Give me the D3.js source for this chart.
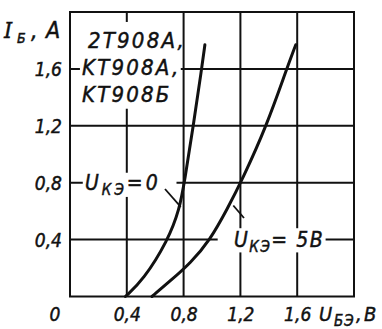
<!DOCTYPE html>
<html><head><meta charset="utf-8">
<script src="https://cdn.jsdelivr.net/npm/d3@7"></script>
<style>
html,body{margin:0;padding:0;background:#fff;}
svg{display:block;}
text{font-family:"DejaVu Sans Condensed","DejaVu Sans",sans-serif;font-style:italic;fill:#111;stroke:#111;stroke-width:0.45px;}
</style></head>
<body>
<script>
// Data
const xTicks = [0.4, 0.8, 1.2, 1.6];
const yTicks = [0.4, 0.8, 1.2, 1.6];
const xTickLabels = ["0,4", "0,8", "1,2", "1,6"];
const yTickLabels = ["0,4", "0,8", "1,2", "1,6"];
const zeroLabel = "0";
// Curve U_КЭ = 0
const u0_U = [0.39, 0.514, 0.69, 0.772, 0.808, 0.868, 0.927, 0.95];
const u0_I = [0.0, 0.113, 0.394, 0.615, 0.817, 1.2, 1.6, 1.77];
// Curve U_КЭ = 5 В
const u5_U = [0.577, 0.71, 0.848, 0.985, 1.11, 1.211, 1.385, 1.526, 1.59];
const u5_I = [0.0, 0.113, 0.235, 0.394, 0.62, 0.817, 1.2, 1.6, 1.77];
const devices = ["2T908A,", "KT908A,", "KT908Б"];

const W = 382, H = 329;
const svg = d3.select("body").append("svg").attr("width", W).attr("height", H);
const x = d3.scaleLinear().domain([0, 2.0]).range([70, 354]);
const y = d3.scaleLinear().domain([0, 2.0]).range([296.5, 12]);
const ink = "#111";

// grid
const g = svg.append("g");
g.selectAll(".vg").data(xTicks).join("line")
  .attr("x1", d => x(d)).attr("x2", d => x(d)).attr("y1", y(2)).attr("y2", y(0))
  .attr("stroke", ink).attr("stroke-width", 2);
g.selectAll(".hg").data(yTicks).join("line")
  .attr("x1", x(0)).attr("x2", x(2)).attr("y1", d => y(d)).attr("y2", d => y(d))
  .attr("stroke", ink).attr("stroke-width", 2);

// white breaks behind labels
const breaks = [
  [x(0.07), y(1.93), x(0.78), y(1.32)],   // device label block
  [x(0.09), y(0.87), x(0.75), y(0.70)],   // Uкэ=0 label
  [x(1.04), y(0.48), x(1.8), y(0.31)]      // Uкэ=5В label
];
svg.selectAll(".brk").data(breaks).join("rect")
  .attr("x", d => d[0]).attr("y", d => d[1])
  .attr("width", d => d[2] - d[0]).attr("height", d => d[3] - d[1])
  .attr("fill", "#fff");

// frame
svg.append("rect").attr("x", x(0)).attr("y", y(2)).attr("width", x(2) - x(0)).attr("height", y(0) - y(2))
  .attr("fill", "none").attr("stroke", ink).attr("stroke-width", 2);

// curves
const line = d3.line().x(d => x(d[0])).y(d => y(d[1])).curve(d3.curveBasis);
[[u0_U, u0_I], [u5_U, u5_I]].forEach(([U, I]) => {
  svg.append("path").datum(U.map((u, i) => [u, I[i]]))
    .attr("d", line).attr("fill", "none").attr("stroke", ink).attr("stroke-width", 3)
    .attr("stroke-linecap", "round");
});

// axis tick labels
const yAxis = d3.axisLeft(y).tickValues(yTicks).tickSize(0).tickPadding(8)
  .tickFormat((d, i) => yTickLabels[i]);
const ya = svg.append("g").attr("transform", `translate(${x(0)},0)`).call(yAxis);
ya.select(".domain").remove();
ya.selectAll("text").attr("font-size", 19).attr("font-family", null).attr("fill", ink).attr("dy", "0.36em");

const xAxis = d3.axisBottom(x).tickValues(xTicks).tickSize(0).tickPadding(11)
  .tickFormat((d, i) => xTickLabels[i]);
const xa = svg.append("g").attr("transform", `translate(0,${y(0)})`).call(xAxis);
xa.select(".domain").remove();
xa.selectAll("text").attr("font-size", 19).attr("font-family", null).attr("fill", ink);

svg.append("text").attr("x", x(0) - 15).attr("y", 321).attr("font-size", 19)
  .attr("text-anchor", "middle").text(zeroLabel);

// axis titles
const yt = svg.append("text").attr("y", 38).attr("font-size", 23);
yt.append("tspan").attr("x", 4).attr("font-family", "DejaVu Serif Condensed, DejaVu Serif, serif").text("I");
yt.append("tspan").attr("x", 17).attr("font-size", 14).attr("dy", 5).text("Б");
yt.append("tspan").attr("x", 31).attr("dy", -5).text(",");
yt.append("tspan").attr("x", 46).text("A");

const xt = svg.append("text").attr("y", 321).attr("font-size", 20);
xt.append("tspan").attr("x", 319).text("U");
xt.append("tspan").attr("x", 334).attr("font-size", 15).attr("dy", 5).attr("letter-spacing", 1).text("БЭ");
xt.append("tspan").attr("x", 356).attr("dy", -5).text(",");
xt.append("tspan").attr("x", 364).text("B");

// device labels
svg.selectAll(".dev").data(devices).join("text")
  .attr("x", (d, i) => i === 0 ? 88 : 82)
  .attr("y", (d, i) => 48 + i * 27)
  .attr("font-size", 22).attr("letter-spacing", 2.2).text(d => d);

// curve labels
const l0 = svg.append("text").attr("x", 85).attr("y", 190).attr("font-size", 21).attr("letter-spacing", 3);
l0.append("tspan").text("U");
l0.append("tspan").attr("font-size", 15).attr("dy", 5).text("КЭ");
l0.append("tspan").attr("dy", -5).text("=0");

const l5 = svg.append("text").attr("x", 234).attr("y", 247).attr("font-size", 21).attr("letter-spacing", 1.5);
l5.append("tspan").text("U");
l5.append("tspan").attr("font-size", 15).attr("dy", 5).text("КЭ");
l5.append("tspan").attr("dy", -5).text("= 5B");

// leader lines
svg.append("line").attr("x1", 165).attr("y1", 189).attr("x2", x(0.78)).attr("y2", y(0.63))
  .attr("stroke", ink).attr("stroke-width", 1.8);
svg.append("line").attr("x1", x(1.15)).attr("y1", y(0.64)).attr("x2", 244).attr("y2", 218)
  .attr("stroke", ink).attr("stroke-width", 1.8);
</script>
</body></html>
